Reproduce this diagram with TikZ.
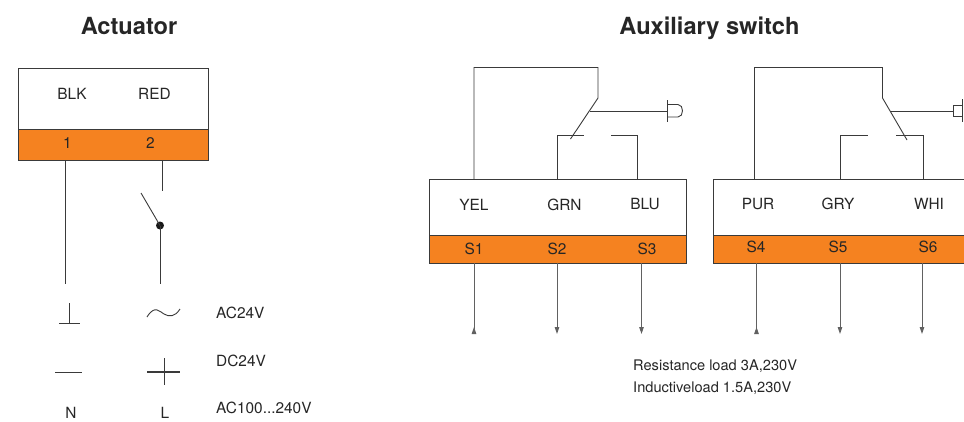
\documentclass[tikz,border=0pt]{standalone}
\usepackage{fontspec}
\setmainfont{TeX Gyre Heros}
\usetikzlibrary{arrows.meta}
\definecolor{termorange}{HTML}{F58220}
\definecolor{ink}{HTML}{3A3A3A}
\tikzset{
  wire/.style={draw=ink,line width=0.9pt},
  boxpart/.style={draw=ink,line width=0.8pt,fill=white,inner sep=0pt,outer sep=0pt},
  termpart/.style={draw=ink,line width=0.8pt,fill=termorange,inner sep=0pt,outer sep=0pt},
  lbl/.style={font=\fontsize{15.4}{17}\selectfont,text=black!85,inner sep=0pt},
  lblleft/.style={lbl,anchor=west},
  notetext/.style={font=\fontsize{14.6}{17}\selectfont,text=black!85,inner sep=0pt,anchor=west},
  titletext/.style={font=\fontsize{23.6}{28}\selectfont\bfseries,text=black!85,inner sep=0pt,anchor=base},
  downtip/.style={-{Triangle[length=7pt,width=4.5pt]}},
  uptip/.style={-{Triangle[length=7pt,width=4.5pt,reversed]}},
}
\begin{document}
\begin{tikzpicture}[x=1pt,y=-1pt]
\useasboundingbox (0,0) rectangle (964,421);
% titles
\node[titletext] (t1) at (129,34) {Actuator};
\node[titletext] (t2) at (709.5,34) {Auxiliary switch};
% actuator box
\path[boxpart] (18,68) rectangle (208,129);
\path[termpart] (18,129) rectangle (208,160);
\node[lbl] (blk) at (72,93.5) {BLK};
\node[lbl] (red) at (154.5,93.5) {RED};
\node[lbl] (n1) at (67.5,143) {1};
\node[lbl] (n2) at (150.5,143) {2};
% actuator wiring
\coordinate (a1) at (65,160); \coordinate (a1e) at (65,284);
\coordinate (a2) at (162,160); \coordinate (a2e) at (162,191);
\coordinate (sw) at (141,193);
\node[circle,fill=black!90,minimum size=8pt,inner sep=0pt] (dot) at (160,225.5) {};
\coordinate (a3e) at (160,284);
\draw[wire] (a1) -- (a1e);
\draw[wire] (a2) -- (a2e);
\draw[wire] (sw) -- (dot.center);
\draw[wire] (dot.center) -- (a3e);
% supply symbols
\coordinate (g1) at (69.5,303); \coordinate (g2) at (69.5,323.5);
\coordinate (g3) at (59,323.5); \coordinate (g4) at (80,323.5);
\draw[wire] (g1) -- (g2);
\draw[wire] (g3) -- (g4);
\coordinate (ts) at (147,317); \coordinate (te) at (180,309);
\draw[wire] (ts) .. controls (155,304) and (160,312) .. (164,314) .. controls (169,317) and (175,317) .. (te);
\coordinate (m1) at (55,372); \coordinate (m2) at (82,372);
\draw[wire] (m1) -- (m2);
\coordinate (p1) at (147,372); \coordinate (p2) at (180,372);
\coordinate (p3) at (164,358); \coordinate (p4) at (164,385);
\draw[wire,line width=1.1pt] (p1) -- (p2);
\draw[wire] (p3) -- (p4);
\node[lbl] (nn) at (71,412.5) {N};
\node[lbl] (ll) at (165,412.5) {L};
\node[lblleft] (ac24) at (216,312.5) {AC24V};
\node[lblleft] (dc24) at (216,360.5) {DC24V};
\node[lblleft] (ac100) at (216,408) {AC100...240V};
% aux box 1
\path[boxpart] (429,179) rectangle (686,235);
\path[termpart] (429,235) rectangle (686,263);
\node[lbl] (yel) at (474,204.5) {YEL};
\node[lbl] (grn) at (564.5,204.5) {GRN};
\node[lbl] (blu) at (645,204.5) {BLU};
\node[lbl] (s1) at (474,248.5) {S1};
\node[lbl] (s2) at (557,248.5) {S2};
\node[lbl] (s3) at (647,248.5) {S3};
% aux box 2 (runs off the right edge)
\path[boxpart] (713,179) rectangle (970,235);
\path[termpart] (713,235) rectangle (970,263);
\node[lbl] (pur) at (758,204) {PUR};
\node[lbl] (gry) at (838,204) {GRY};
\node[lbl] (whi) at (929,204) {WHI};
\node[lbl] (s4) at (756,247) {S4};
\node[lbl] (s5) at (838,247) {S5};
\node[lbl] (s6) at (928,247) {S6};
% switch 1
\coordinate (c1a) at (474,179); \coordinate (c1b) at (474,67.5);
\coordinate (c1c) at (598,67.5); \coordinate (c1d) at (598,98);
\coordinate (c1e) at (570.5,139);
\draw[wire] (c1a) -- (c1b) -- (c1c) -- (c1d) -- (c1e);
\coordinate (c1f) at (590,111); \coordinate (c1g) at (667,111);
\draw[wire] (c1f) -- (c1g);
\coordinate (c1h) at (667,100); \coordinate (c1i) at (667,122);
\draw[wire] (c1h) -- (c1i);
\coordinate (c1j) at (667,104.5); \coordinate (c1k) at (667,117);
\draw[wire] (c1j) -- (678,104.5) .. controls (684,104.5) and (684,117) .. (678,117) -- (c1k);
\coordinate (c1l) at (557.5,179); \coordinate (c1m) at (557.5,135.5); \coordinate (c1n) at (584,135.5);
\draw[wire] (c1l) -- (c1m) -- (c1n);
\coordinate (c1o) at (611,135.5); \coordinate (c1p) at (637.5,135.5); \coordinate (c1q) at (637.5,179);
\draw[wire] (c1o) -- (c1p) -- (c1q);
% switch 2
\coordinate (c2a) at (754.5,179); \coordinate (c2b) at (754.5,67.5);
\coordinate (c2c) at (882.5,67.5); \coordinate (c2d) at (882.5,98);
\coordinate (c2e) at (907,140);
\draw[wire] (c2a) -- (c2b) -- (c2c) -- (c2d) -- (c2e);
\coordinate (c2f) at (890,111.5); \coordinate (c2g) at (953,111.5);
\draw[wire] (c2f) -- (c2g);
\coordinate (c2h) at (962,99); \coordinate (c2i) at (962,122);
\draw[wire] (c2h) -- (c2i);
\coordinate (c2j) at (962,105); \coordinate (c2k) at (962,116.5);
\draw[wire] (c2j) -- (953,105) -- (953,116.5) -- (c2k);
\coordinate (c2l) at (840.5,179); \coordinate (c2m) at (840.5,135.5); \coordinate (c2n) at (868,135.5);
\draw[wire] (c2l) -- (c2m) -- (c2n);
\coordinate (c2o) at (896,135.5); \coordinate (c2p) at (923,135.5); \coordinate (c2q) at (923,179);
\draw[wire] (c2o) -- (c2p) -- (c2q);
% output arrows
\foreach \nm/\xx/\tip in {q1/474/uptip,q2/557/downtip,q3/641.5/downtip,q4/756.5/uptip,q5/840/downtip,q6/922/downtip}{
  \coordinate (\nm a) at (\xx,263);
  \coordinate (\nm b) at (\xx,334);
  \draw[wire,draw=ink!80,fill=ink,\tip] (\nm a) -- (\nm b);
}
\node[notetext] (res) at (633,366) {Resistance load 3A,230V};
\node[notetext] (ind) at (633,388.5) {Inductiveload 1.5A,230V};
\end{tikzpicture}
\end{document}
